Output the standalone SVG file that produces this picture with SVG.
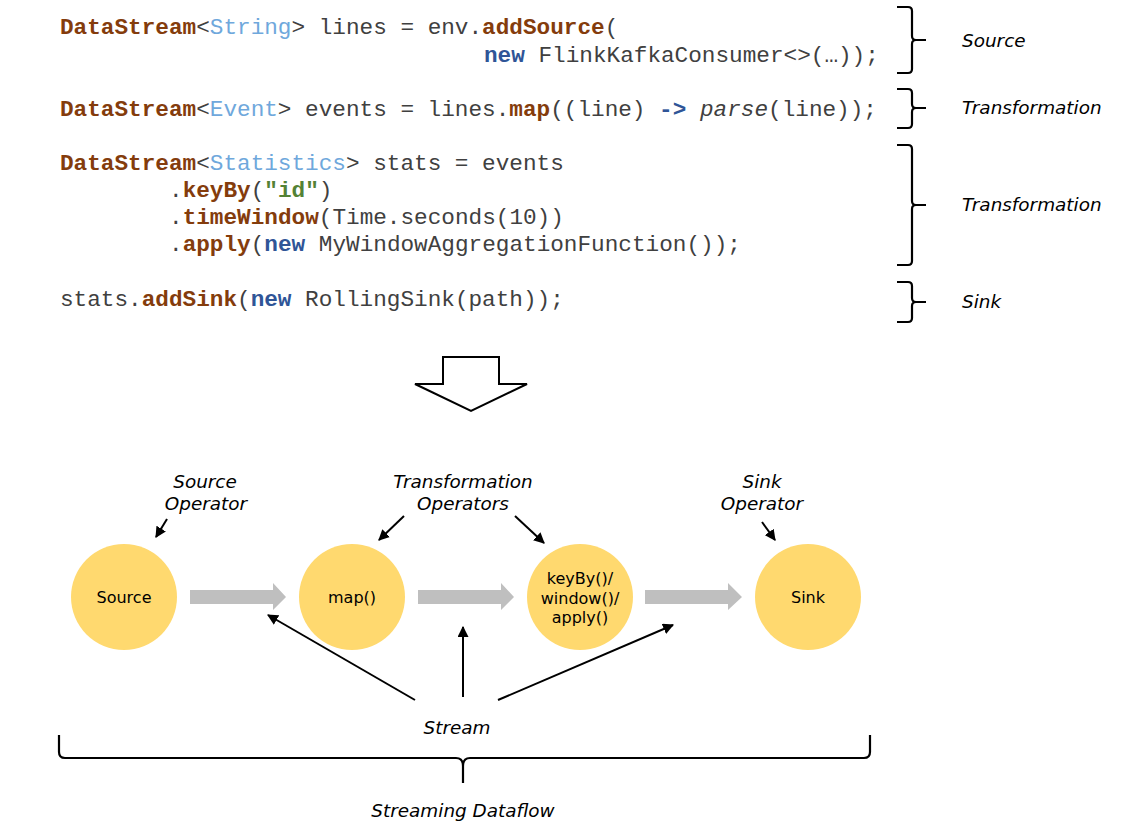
<svg xmlns="http://www.w3.org/2000/svg" width="1131" height="824" viewBox="0 0 1131 824">
<style>
.code{font-family:"Liberation Mono","Courier New",monospace;font-size:22.7px;fill:#404040}
.kw{font-weight:bold;fill:#843c0c}
.nw{font-weight:bold;fill:#2f5597}
.ty{fill:#6fa8dc}
.st{font-weight:bold;fill:#548235}
.lbl{font-family:"DejaVu Sans",Verdana,sans-serif;font-size:18.4px;font-style:italic;fill:#000}
.node{fill:#ffd96f}
.ntx{font-family:"DejaVu Sans",Verdana,sans-serif;font-size:16px;fill:#000;text-anchor:middle}
.brace{fill:none;stroke:#000;stroke-width:2.2}
.flow{fill:#bfbfbf}
.ptr{stroke:#000;stroke-width:2;fill:none}
</style>
<defs>
<marker id="ah" viewBox="0 0 10 10" refX="9" refY="5" markerWidth="11" markerHeight="11" markerUnits="userSpaceOnUse" orient="auto">
<path d="M0,0 L10,5 L0,10 z" fill="#000"/>
</marker>
</defs>
<g id="code">
<text class="code" x="60" y="34"><tspan class="kw">DataStream</tspan>&lt;<tspan class="ty">String</tspan>&gt; lines = env.<tspan class="kw">addSource</tspan>(</text>
<text class="code" x="484" y="62"><tspan class="nw">new</tspan> FlinkKafkaConsumer&lt;&gt;(…));</text>
<text class="code" x="60" y="116"><tspan class="kw">DataStream</tspan>&lt;<tspan class="ty">Event</tspan>&gt; events = lines.<tspan class="kw">map</tspan>((line) <tspan class="nw">-&gt;</tspan> <tspan font-style="italic">parse</tspan>(line));</text>
<text class="code" x="60" y="170"><tspan class="kw">DataStream</tspan>&lt;<tspan class="ty">Statistics</tspan>&gt; stats = events</text>
<text class="code" x="169" y="197">.<tspan class="kw">keyBy</tspan>(<tspan class="st">"id"</tspan>)</text>
<text class="code" x="169" y="224">.<tspan class="kw">timeWindow</tspan>(Time.seconds(10))</text>
<text class="code" x="169" y="251">.<tspan class="kw">apply</tspan>(<tspan class="nw">new</tspan> MyWindowAggregationFunction());</text>
<text class="code" x="60" y="306">stats.<tspan class="kw">addSink</tspan>(<tspan class="nw">new</tspan> RollingSink(path));</text>
</g>
<g id="braces">
<path class="brace" d="M897,7 L908,7 Q912,7 912,11 L912,36 Q912,40 916,40 L926,40 M916,40 Q912,40 912,44 L912,69 Q912,73 908,73 L897,73"/>
<path class="brace" d="M897,89 L908,89 Q912,89 912,93 L912,104 Q912,108 916,108 L926,108 M916,108 Q912,108 912,112 L912,124 Q912,128 908,128 L897,128"/>
<path class="brace" d="M897,145 L908,145 Q912,145 912,149 L912,201 Q912,205 916,205 L926,205 M916,205 Q912,205 912,209 L912,261 Q912,265 908,265 L897,265"/>
<path class="brace" d="M897,282 L908,282 Q912,282 912,286 L912,298 Q912,302 916,302 L926,302 M916,302 Q912,302 912,306 L912,318 Q912,322 908,322 L897,322"/>
<text class="lbl" x="962" y="47">Source</text>
<text class="lbl" x="962" y="114">Transformation</text>
<text class="lbl" x="962" y="211">Transformation</text>
<text class="lbl" x="962" y="308">Sink</text>
</g>
<g id="down-arrow">
<polygon points="443,357 499,357 499,384 527,384 471,411 415,384 443,384" fill="#fff" stroke="#000" stroke-width="2"/>
</g>
<g id="labels">
<text class="lbl" text-anchor="middle" x="205" y="488">Source</text>
<text class="lbl" text-anchor="middle" x="206" y="510">Operator</text>
<text class="lbl" text-anchor="middle" x="463" y="488">Transformation</text>
<text class="lbl" text-anchor="middle" x="463" y="510">Operators</text>
<text class="lbl" text-anchor="middle" x="762" y="488">Sink</text>
<text class="lbl" text-anchor="middle" x="762" y="510">Operator</text>
<text class="lbl" text-anchor="middle" x="457" y="734">Stream</text>
<text class="lbl" text-anchor="middle" x="463" y="817">Streaming Dataflow</text>
</g>
<g id="node-source">
<circle class="node" cx="124" cy="597" r="53"/>
<text class="ntx" x="124" y="603">Source</text>
</g>
<g id="node-map">
<circle class="node" cx="352" cy="597" r="53"/>
<text class="ntx" x="352" y="603">map()</text>
</g>
<g id="node-window">
<circle class="node" cx="580" cy="597" r="53"/>
<text class="ntx" x="580" y="584">keyBy()/</text>
<text class="ntx" x="580" y="603.5">window()/</text>
<text class="ntx" x="580" y="623">apply()</text>
</g>
<g id="node-sink">
<circle class="node" cx="808" cy="597" r="53"/>
<text class="ntx" x="808" y="603">Sink</text>
</g>
<g id="connectors">
<polygon class="flow" points="190,590 273,590 273,583 286,597 273,610 273,604 190,604"/>
<polygon class="flow" points="418,590 501,590 501,583 514,597 501,610 501,604 418,604"/>
<polygon class="flow" points="645,590 728,590 728,583 742,597 728,610 728,604 645,604"/>
<line class="ptr" x1="167" y1="519" x2="156" y2="537" marker-end="url(#ah)"/>
<line class="ptr" x1="404" y1="516" x2="379" y2="540" marker-end="url(#ah)"/>
<line class="ptr" x1="515" y1="516" x2="544" y2="543" marker-end="url(#ah)"/>
<line class="ptr" x1="762" y1="522" x2="775" y2="540" marker-end="url(#ah)"/>
<line class="ptr" x1="415" y1="700" x2="268" y2="615" marker-end="url(#ah)"/>
<line class="ptr" x1="463" y1="697" x2="463" y2="627" marker-end="url(#ah)"/>
<line class="ptr" x1="498" y1="700" x2="673" y2="625" marker-end="url(#ah)"/>
</g>
<g id="bottom-brace">
<path class="brace" d="M59,735 L59,752 Q59,758 65,758 L456,758 Q463,758 463,766 L463,783 M463,766 Q463,758 470,758 L864,758 Q870,758 870,752 L870,735"/>
</g>
</svg>
